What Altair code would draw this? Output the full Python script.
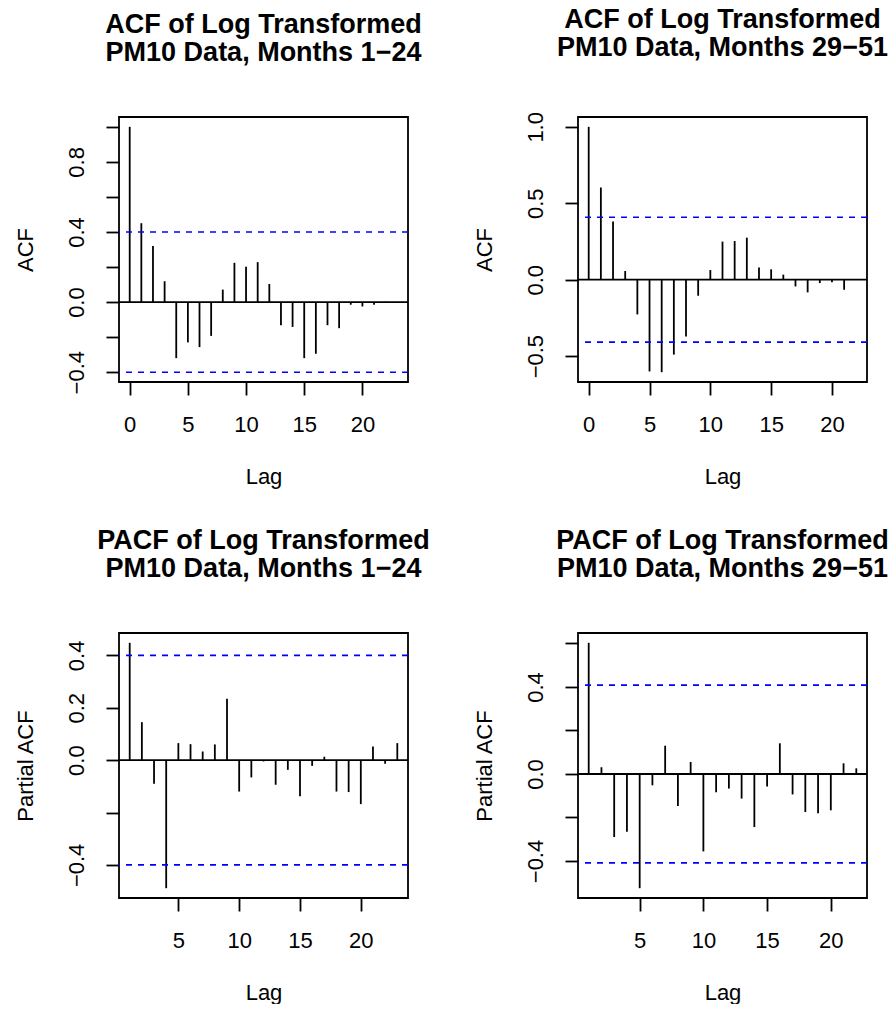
import json
import numpy as np
import pandas as pd
import altair as alt

FONT = "Liberation Sans"

# ---- data ----
lags_acf1 = list(range(0, 24))
acf1 = [1.0, 0.45, 0.32, 0.119, -0.32, -0.23, -0.257, -0.193, 0.071, 0.224,
        0.201, 0.228, 0.103, -0.132, -0.142, -0.32, -0.295, -0.132, -0.149,
        -0.015, -0.025, -0.015, 0.002, -0.002]

lags_acf2 = list(range(0, 23))
acf2 = [1.0, 0.603, 0.38, 0.057, -0.227, -0.600, -0.605, -0.49, -0.371, -0.105,
        0.063, 0.249, 0.253, 0.275, 0.079, 0.068, 0.033, -0.044, -0.083,
        -0.022, -0.017, -0.066, 0.004]

lags_pacf1 = list(range(1, 24))
pacf1 = [0.448, 0.145, -0.09, -0.489, 0.065, 0.061, 0.033, 0.06, 0.234, -0.12,
         -0.066, -0.005, -0.094, -0.037, -0.138, -0.022, 0.013, -0.12, -0.122,
         -0.168, 0.052, -0.014, 0.065]

lags_pacf2 = list(range(1, 23))
pacf2 = [0.603, 0.031, -0.29, -0.265, -0.525, -0.052, 0.13, -0.147, 0.055,
         -0.356, -0.084, -0.067, -0.113, -0.244, -0.057, 0.141, -0.094, -0.175,
         -0.181, -0.167, 0.049, 0.026]

n1, n2 = 24, 23

titles = [
    ["ACF of Log Transformed\u00a0", "\u00a0PM10 Data, Months 1\u221224"],
    ["ACF of Log Transformed\u00a0", "\u00a0PM10 Data, Months 29\u221251"],
    ["PACF of Log Transformed\u00a0", "\u00a0PM10 Data, Months 1\u221224"],
    ["PACF of Log Transformed\u00a0", "\u00a0PM10 Data, Months 29\u221251"],
]

x_ticks_acf = [0, 5, 10, 15, 20]
x_ticks_pacf = [5, 10, 15, 20]

y_ticks = [
    [-0.4, -0.2, 0.0, 0.2, 0.4, 0.6, 0.8, 1.0],
    [-0.5, 0.0, 0.5, 1.0],
    [-0.4, -0.2, 0.0, 0.2, 0.4],
    [-0.4, -0.2, 0.0, 0.2, 0.4, 0.6],
]
y_labels = [
    [-0.4, 0.0, 0.4, 0.8],
    [-0.5, 0.0, 0.5, 1.0],
    [-0.4, 0.0, 0.2, 0.4],
    [-0.4, 0.0, 0.4],
]

W, H = 289, 265
LW = 1.8


def ext(lo, hi):
    d = (hi - lo) * 0.04
    return [lo - d, hi + d]


def panel(lags, vals, n, title, ytitle, xticks, yticks, ylabels):
    ci = 1.96 / np.sqrt(n)
    xdom = ext(min(lags), max(lags))
    ydom = ext(min(min(vals), -ci), max(max(vals), ci))
    df = pd.DataFrame({"lag": lags, "val": vals, "zero": [0.0] * len(lags)})
    ci_df = pd.DataFrame({"val": [ci, -ci]})
    zero_df = pd.DataFrame({"val": [0.0]})

    x = alt.X("lag:Q",
              scale=alt.Scale(domain=xdom, nice=False, zero=False),
              axis=alt.Axis(values=xticks, title="Lag", format="d",
                            labelPadding=19, titlePadding=31))
    y = alt.Y("val:Q",
              scale=alt.Scale(domain=ydom, nice=False, zero=False),
              axis=alt.Axis(values=yticks, title=ytitle, format=".1f",
                            labelExpr=f"indexof({json.dumps(ylabels)}, datum.value) >= 0 ? datum.label : ''",
                            labelAngle=270, labelAlign="center",
                            labelBaseline="bottom", labelPadding=18,
                            titlePadding=28))

    spikes = alt.Chart(df).mark_rule(color="black", strokeWidth=LW).encode(
        x=x, y=y, y2="zero:Q")
    zero = alt.Chart(zero_df).mark_rule(color="black", strokeWidth=LW).encode(y=y)
    cil = alt.Chart(ci_df).mark_rule(color="#0000ff", strokeWidth=1.6,
                                     strokeDash=[6, 6]).encode(y=y)
    return alt.layer(spikes, zero, cil).properties(
        width=W, height=H,
        title=alt.TitleParams(text=title, fontSize=27, fontWeight="bold",
                              font=FONT, anchor="middle", frame="group",
                              lineHeight=28, offset=50, color="black"),
    )


p1 = panel(lags_acf1, acf1, n1, titles[0], "ACF", x_ticks_acf, y_ticks[0], y_labels[0])
p2 = panel(lags_acf2, acf2, n2, titles[1], "ACF", x_ticks_acf, y_ticks[1], y_labels[1])
p3 = panel(lags_pacf1, pacf1, n1, titles[2], "Partial ACF", x_ticks_pacf, y_ticks[2], y_labels[2])
p4 = panel(lags_pacf2, pacf2, n2, titles[3], "Partial ACF", x_ticks_pacf, y_ticks[3], y_labels[3])

chart = alt.concat(
    p1, p2, p3, p4, columns=2,
    spacing=alt.RowColnumber(row=251, column=170),
    bounds="flush",
).properties(
    padding={"left": 13, "top": 4, "right": 0, "bottom": 0},
    background="white",
).configure_view(
    stroke="black", strokeWidth=LW,
).configure_axis(
    labelFont=FONT, titleFont=FONT, labelFontSize=22, titleFontSize=22,
    titleFontWeight="normal", labelColor="black", titleColor="black",
    tickColor="black", tickSize=13, tickWidth=LW, domain=False, grid=False,
    labelOverlap=False, labelFlush=False,
)

chart.save("out.html", embed_options={"renderer": "svg", "actions": False})
